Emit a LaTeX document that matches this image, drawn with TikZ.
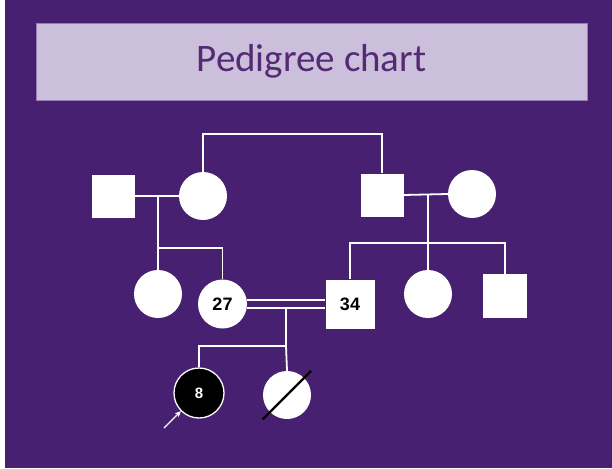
\documentclass[tikz,border=0pt]{standalone}
\usepackage{fontspec}
\setmainfont{Liberation Sans}
\newfontfamily\titlefont{Carlito}
\usetikzlibrary{calc,arrows.meta}
\definecolor{bgpurple}{RGB}{72,32,114}
\definecolor{titlefill}{RGB}{203,191,220}
\definecolor{titleedge}{RGB}{150,125,180}
\definecolor{titletext}{RGB}{84,42,116}
\tikzset{
  sq/.style={draw=none, fill=white, rectangle, inner sep=0pt},
  circ/.style={draw=none, fill=white, circle, inner sep=0pt},
  link/.style={draw=white, line width=1.8pt},
  numtext/.style={font=\fontsize{18}{18}\selectfont\bfseries, text=black},
}
\begin{document}
\begin{tikzpicture}[x=1pt,y=-1pt]
\useasboundingbox (0,0) rectangle (612,468);
\fill[white] (0,0) rectangle (612,468);
\fill[bgpurple] (5,0) rectangle (612,468);
% title
\node[draw=titleedge, line width=0.8pt, fill=titlefill, minimum width=551pt, minimum height=77pt, inner sep=0pt,
      font=\titlefont\fontsize{39}{39}\selectfont, text=titletext] (title) at (311.5,61.5) {\raisebox{-3pt}{Pedigree chart}};
% generation I
\node[sq, minimum size=43pt] (gf1) at (113,196) {};
\node[circ, minimum size=48pt] (gm1) at (203,196) {};
\node[sq, minimum size=43pt] (gf2) at (382,195) {};
\node[circ, minimum size=48pt] (gm2) at (472,194) {};
% generation II
\node[circ, minimum size=48pt] (c1) at (158,294) {};
\node[circ, minimum size=49pt, numtext] (p27) at (222.5,304) {27};
\node[sq, minimum size=49pt, numtext] (p34) at (350,304) {34};
\node[circ, minimum size=48pt] (c3) at (428,294) {};
\node[sq, minimum size=44pt] (c4) at (505,296) {};
% generation III
\node[circ, minimum size=50pt, fill=black, draw=white, line width=1.3pt, text=white,
      font=\fontsize{15}{15}\selectfont\bfseries] (p8) at (199,393) {8};
\node[circ, minimum size=48pt] (dec) at (287,395) {};
% junction points
\coordinate (m1) at (158,196);
\coordinate (j1) at (158,248);
\coordinate (m2) at (428,195);
\coordinate (j2) at (428,243);
\coordinate (top) at (203,134);
\coordinate (m3) at (286,308.3);
\coordinate (j3) at (286,346);
% connectors
\draw[link] (gf1.east) -- (gm1.west);
\draw[link] (m1) -- (j1);
\draw[link] (j1) -- (c1.north);
\draw[link] (j1) -| (p27.north);
\draw[link] (gm1.north) |- (top) -| (gf2.north);
\draw[link] (gf2.east) -- (gm2.west);
\draw[link] (m2) -- (j2) -- (c3.north);
\draw[link] (j2) -| (p34.north);
\draw[link] (j2) -| (c4.north);
\draw[link] ([yshift=-4.3pt]p27.east) -- ([yshift=-4.3pt]p34.west);
\draw[link] ([yshift=4.3pt]p27.east) -- ([yshift=4.3pt]p34.west);
\draw[link] (m3) -- (j3) -- (dec.north);
\draw[link] (j3) -| (p8.north);
% deceased slash
\draw[black, line width=2.2pt] ($(dec.center)+(-24.3,24.3)$) coordinate (s1) -- ($(dec.center)+(24,-24)$) coordinate (s2);
% proband arrow
\coordinate (ar) at (164,428);
\draw[white, line width=1.1pt, -{Stealth[length=6pt,width=5.5pt]}] (ar) -- (p8.225);
\end{tikzpicture}
\end{document}
